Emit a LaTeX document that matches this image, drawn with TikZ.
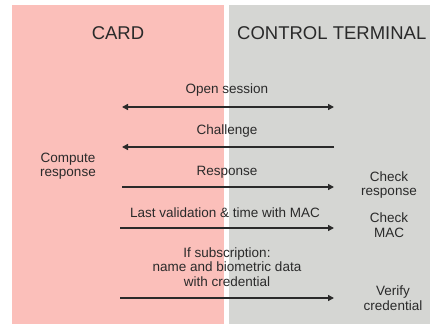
\documentclass[tikz,border=0pt]{standalone}
\usepackage{fontspec}
\setmainfont{Liberation Sans}
\usetikzlibrary{arrows.meta}
\definecolor{cardpink}{HTML}{FBBFBA}
\definecolor{termgray}{HTML}{D5D6D3}
\definecolor{ink}{HTML}{2A2A2A}
\begin{document}
\begin{tikzpicture}[x=1pt,y=-1pt,
  lbl/.style={font=\fontsize{13.5}{14.5}\selectfont, text=ink, align=center, inner sep=0pt},
  ttl/.style={font=\fontsize{18.5}{20}\selectfont, text=ink, inner sep=0pt},
  msg/.style={draw=ink, line width=1.4pt, -{Triangle[length=6pt,width=6pt]}},
  msgboth/.style={draw=ink, line width=1.4pt, {Triangle[length=6pt,width=6pt]}-{Triangle[length=6pt,width=6pt]}}
]
\useasboundingbox (0,0) rectangle (430,324);
\fill[white] (0,0) rectangle (430,324);
\fill[cardpink] (12,5) rectangle (224,324);
\fill[termgray] (229,5) rectangle (430,324);

\node[ttl] (card) at (118,33) {CARD};
\node[ttl, anchor=west] (term) at (237,33) {CONTROL TERMINAL};

\coordinate (a1l) at (122,107); \coordinate (a1r) at (334,107);
\coordinate (a2l) at (122,147); \coordinate (a2r) at (334,147);
\coordinate (a3l) at (122,187); \coordinate (a3r) at (334,187);
\coordinate (a4l) at (120,228); \coordinate (a4r) at (334,228);
\coordinate (a5l) at (120,298); \coordinate (a5r) at (334,298);

\node[lbl] (open) at (227,90) {Open session};
\node[lbl] (chal) at (227,131) {Challenge};
\node[lbl] (resp) at (227,172) {Response};
\node[lbl] (last) at (225,213) {Last validation \& time with MAC};
\node[lbl] (ifsub) at (227,267) {If subscription:\\name and biometric data\\with credential};

\node[lbl] (comp) at (68,166) {Compute\\response};
\node[lbl] (chkr) at (389,185) {Check\\response};
\node[lbl] (chkm) at (389,225) {Check\\MAC};
\node[lbl] (verc) at (393,298) {Verify\\credential};

\draw[msgboth] (a1l) -- (a1r);
\draw[msg] (a2r) -- (a2l);
\draw[msg] (a3l) -- (a3r);
\draw[msg] (a4l) -- (a4r);
\draw[msg] (a5l) -- (a5r);
\end{tikzpicture}
\end{document}
